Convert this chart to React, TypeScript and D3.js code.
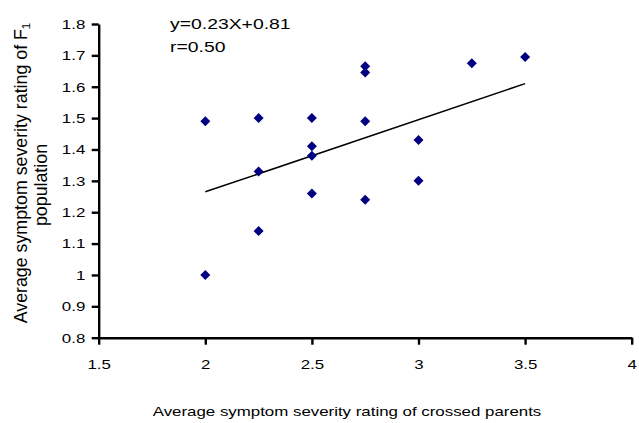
import React, { useEffect, useRef } from "react";
import * as d3 from "d3";

// parents' average rating vs F1 average rating
const parentRatings = [2, 2, 2.25, 2.25, 2.25, 2.5, 2.5, 2.5, 2.5, 2.75, 2.75, 2.75, 2.75, 3, 3, 3.25, 3.5];
const f1Ratings = [1.49, 1.0, 1.5, 1.33, 1.14, 1.5, 1.41, 1.38, 1.26, 1.665, 1.645, 1.49, 1.24, 1.43, 1.3, 1.675, 1.695];

const xTicks = [1.5, 2, 2.5, 3, 3.5, 4];
const yTicks = [0.8, 0.9, 1, 1.1, 1.2, 1.3, 1.4, 1.5, 1.6, 1.7, 1.8];

// fitted line as printed on the chart
const trendSlope = 0.23;
const trendIntercept = 0.805;

const equationLines = ["y=0.23X+0.81", "r=0.50"];
const xTitle = "Average symptom severity rating of crossed parents";
const yTitleMain = "Average symptom severity rating of F";
const yTitleSub = "1";
const yTitle2 = "population";

const W = 639;
const H = 423;
const FONT = "'Liberation Sans', Arial, sans-serif";
const STRETCH = 1.25; // the picture's text is wider than it is tall

const App = () => {
  const svgRef = useRef(null);

  useEffect(() => {
    const svg = d3.select(svgRef.current);
    svg.selectAll("*").remove();

    const margin = { top: 24, right: 7.3, bottom: 85.3, left: 98.7 };

    const x = d3.scaleLinear().domain([1.5, 4]).range([margin.left, W - margin.right]);
    const y = d3.scaleLinear().domain([0.8, 1.8]).range([H - margin.bottom, margin.top]);

    const fmt = d3.format("~g");

    // y axis
    const gy = svg
      .append("g")
      .attr("transform", `translate(${margin.left},0)`)
      .call(d3.axisLeft(y).tickValues(yTicks).tickSize(7).tickSizeOuter(0).tickFormat(fmt));
    gy.selectAll("path, line").attr("stroke", "#000").attr("stroke-width", 2.4);
    gy.selectAll("text")
      .attr("x", -13.4 / STRETCH)
      .attr("transform", `scale(${STRETCH},1)`)
      .attr("font-size", 13.5)
      .attr("font-family", FONT)
      .attr("fill", "#000");

    // x axis
    const gx = svg
      .append("g")
      .attr("transform", `translate(0,${H - margin.bottom})`)
      .call(d3.axisBottom(x).tickValues(xTicks).tickSize(7).tickSizeOuter(0).tickPadding(14.6).tickFormat(fmt));
    gx.selectAll("path, line").attr("stroke", "#000").attr("stroke-width", 2.4);
    gx.selectAll("text")
      .attr("transform", `scale(${STRETCH},1)`)
      .attr("font-size", 13.5)
      .attr("font-family", FONT)
      .attr("fill", "#000");

    // trend line over the data range
    const ext = d3.extent(parentRatings);
    const line = d3
      .line()
      .x((d) => x(d))
      .y((d) => y(trendIntercept + trendSlope * d));
    svg
      .append("path")
      .attr("d", line(ext))
      .attr("fill", "none")
      .attr("stroke", "#000")
      .attr("stroke-width", 1.5);

    // points
    const diamond = d3.symbol(d3.symbolSquare, 50);
    svg
      .append("g")
      .selectAll("path")
      .data(parentRatings.map((v, i) => [v, f1Ratings[i]]))
      .join("path")
      .attr("d", diamond)
      .attr("transform", (d) => `translate(${x(d[0])},${y(d[1])}) rotate(45)`)
      .attr("fill", "#000080");

    // equation
    equationLines.forEach((t, i) => {
      svg
        .append("text")
        .attr("transform", `translate(170,${29 + i * 23}) scale(${STRETCH},1)`)
        .attr("font-size", 15.5)
        .attr("font-family", FONT)
        .attr("fill", "#000")
        .text(t);
    });

    // x title
    svg
      .append("text")
      .attr("transform", `translate(347,416) scale(${STRETCH},1)`)
      .attr("text-anchor", "middle")
      .attr("font-size", 13.5)
      .attr("font-family", FONT)
      .attr("fill", "#000")
      .text(xTitle);

    // y title, two lines
    const t1 = svg
      .append("text")
      .attr("transform", `translate(27,173) rotate(-90)`)
      .attr("text-anchor", "middle")
      .attr("font-size", 17.8)
      .attr("font-family", FONT)
      .attr("fill", "#000");
    t1.append("tspan").text(yTitleMain);
    t1.append("tspan").attr("font-size", 11.5).attr("dy", 3).text(yTitleSub);

    svg
      .append("text")
      .attr("transform", `translate(47,185) rotate(-90)`)
      .attr("text-anchor", "middle")
      .attr("font-size", 17.8)
      .attr("font-family", FONT)
      .attr("fill", "#000")
      .text(yTitle2);
  }, []);

  return (
    <svg
      ref={svgRef}
      width={W}
      height={H}
      style={{ position: "absolute", left: 0, top: 0, background: "#fff" }}
    />
  );
};

export default App;
